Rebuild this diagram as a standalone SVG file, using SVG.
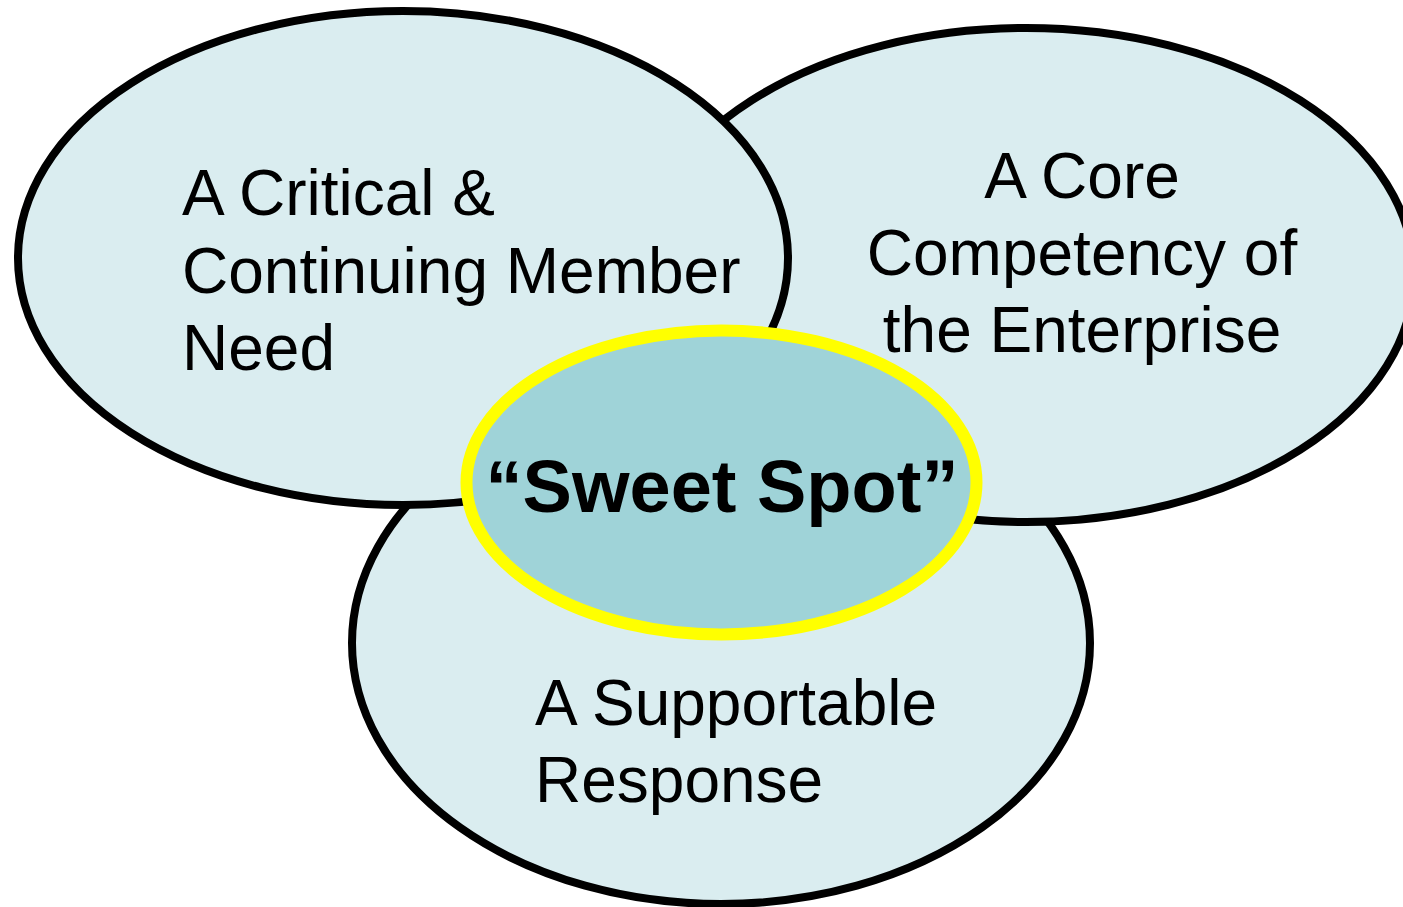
<svg xmlns="http://www.w3.org/2000/svg" width="1403" height="907" viewBox="0 0 1403 907">
  <style>
    .circle { fill: #daedf0; stroke: #000000; stroke-width: 8; }
    .core { fill: #9fd3d8; stroke: #ffff00; stroke-width: 12; }
    .label { font-family: "Liberation Sans", Arial, sans-serif; font-size: 64px; fill: #000000; }
    .center-label { font-family: "Liberation Sans", Arial, sans-serif; font-size: 74px; font-weight: bold; fill: #000000; }
  </style>
  <rect width="1403" height="907" fill="#ffffff"/>

  <!-- Bottom circle: supportable response -->
  <g id="response">
    <ellipse class="circle" cx="721" cy="643" rx="369" ry="261"/>
    <text class="label" x="535" y="725">A Supportable</text>
    <text class="label" x="535" y="802">Response</text>
  </g>

  <!-- Right circle: core competency -->
  <g id="competency">
    <ellipse class="circle" cx="1026" cy="275" rx="388" ry="247"/>
    <text class="label" text-anchor="middle" x="1082" y="198">A Core</text>
    <text class="label" text-anchor="middle" x="1082" y="275">Competency of</text>
    <text class="label" text-anchor="middle" x="1082" y="352">the Enterprise</text>
  </g>

  <!-- Left circle: member need -->
  <g id="need">
    <ellipse class="circle" cx="403" cy="258" rx="385" ry="247"/>
    <text class="label" x="182" y="215">A Critical &amp;</text>
    <text class="label" x="182" y="293">Continuing Member</text>
    <text class="label" x="182" y="370">Need</text>
  </g>

  <!-- Overlap of all three -->
  <g id="sweet-spot">
    <ellipse class="core" cx="721.5" cy="482.5" rx="255" ry="152"/>
    <text class="center-label" text-anchor="middle" x="722" y="512">“Sweet Spot”</text>
  </g>

  <g id="connectors"/>
</svg>
